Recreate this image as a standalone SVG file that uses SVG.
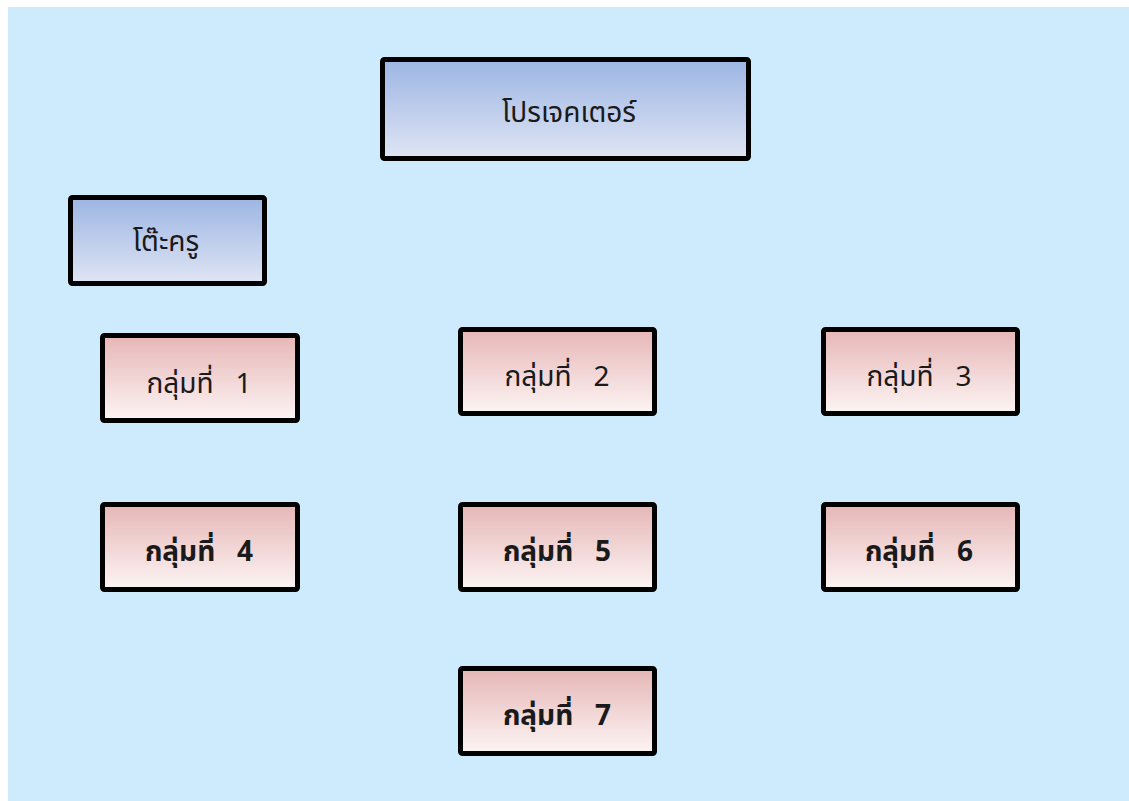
<svg xmlns="http://www.w3.org/2000/svg" width="1129" height="801" viewBox="0 0 1129 801">
  <style>
    .box { stroke: #000; stroke-width: 5; }
    .blue { fill: url(#gBlue); }
    .pink { fill: url(#gPink); }
    .lbl { font-family: "Noto Sans Thai", "Noto Sans", "DejaVu Sans", sans-serif; font-size: 28px; fill: #1a1a1a; text-anchor: middle; white-space: pre; }
    .b { font-weight: bold; }
  </style>
  <defs>
    <linearGradient id="gBlue" x1="0" y1="0" x2="0" y2="1">
      <stop offset="0" stop-color="#9cb5e3"/>
      <stop offset="1" stop-color="#dfe5f4"/>
    </linearGradient>
    <linearGradient id="gPink" x1="0" y1="0" x2="0" y2="1">
      <stop offset="0" stop-color="#e6b6b6"/>
      <stop offset="1" stop-color="#fdf4f4"/>
    </linearGradient>
  </defs>

  <rect x="0" y="0" width="1129" height="801" fill="#ffffff"/>
  <rect x="8" y="7" width="1121" height="794" fill="#cdebfd"/>

  <g id="connectors"></g>

  <g id="projector">
    <rect class="box blue" x="382.5" y="59.5" width="366" height="99" rx="2"/>
    <text class="lbl" x="569" y="122">โปรเจคเตอร์</text>
  </g>
  <g id="teacher-desk">
    <rect class="box blue" x="70.5" y="197.5" width="194" height="86" rx="2"/>
    <text class="lbl" x="166" y="251">โต๊ะครู</text>
  </g>
  <g id="group-1">
    <rect class="box pink" x="102.5" y="335.5" width="195" height="85" rx="2"/>
    <text class="lbl" x="199" y="393" xml:space="preserve">กลุ่มที่   1</text>
  </g>
  <g id="group-2">
    <rect class="box pink" x="460.5" y="329.5" width="194" height="84" rx="2"/>
    <text class="lbl" x="557" y="386" xml:space="preserve">กลุ่มที่   2</text>
  </g>
  <g id="group-3">
    <rect class="box pink" x="823.5" y="329.5" width="194" height="84" rx="2"/>
    <text class="lbl" x="919" y="386" xml:space="preserve">กลุ่มที่   3</text>
  </g>
  <g id="group-4">
    <rect class="box pink" x="102.5" y="504.5" width="195" height="85" rx="2"/>
    <text class="lbl b" x="199" y="561" xml:space="preserve">กลุ่มที่   4</text>
  </g>
  <g id="group-5">
    <rect class="box pink" x="460.5" y="504.5" width="194" height="85" rx="2"/>
    <text class="lbl b" x="557" y="561" xml:space="preserve">กลุ่มที่   5</text>
  </g>
  <g id="group-6">
    <rect class="box pink" x="823.5" y="504.5" width="194" height="85" rx="2"/>
    <text class="lbl b" x="919" y="561" xml:space="preserve">กลุ่มที่   6</text>
  </g>
  <g id="group-7">
    <rect class="box pink" x="460.5" y="668.5" width="194" height="85" rx="2"/>
    <text class="lbl b" x="557" y="725" xml:space="preserve">กลุ่มที่   7</text>
  </g>
</svg>
